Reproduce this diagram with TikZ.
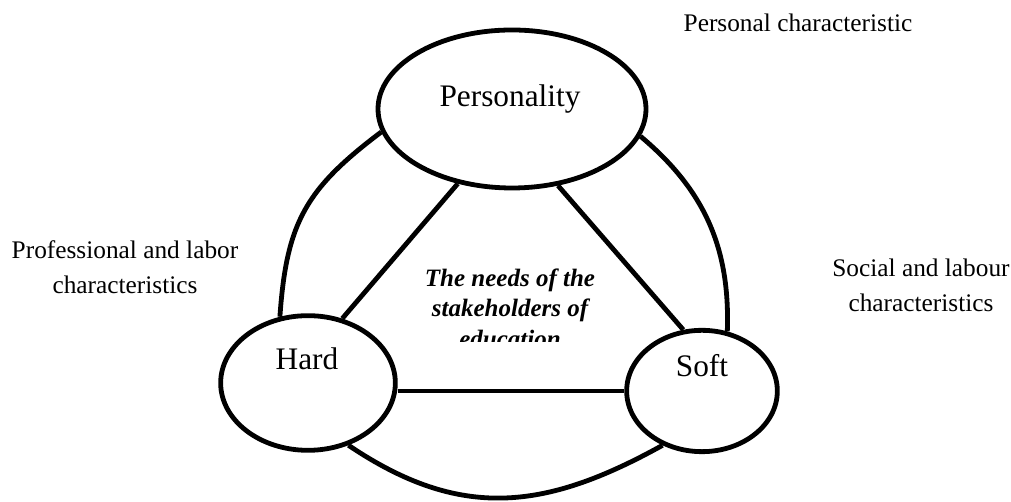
\documentclass[tikz,border=0pt]{standalone}
\usepackage{fontspec}
\setmainfont{Liberation Serif}
\usetikzlibrary{shapes.geometric}

\begin{document}
\begin{tikzpicture}[x=0.75pt,y=0.75pt,
  blob/.style={draw,ellipse,line width=3.6pt,inner sep=0pt},
  big/.style={font=\fontsize{23.5}{28}\selectfont},
  side/.style={align=center,font=\fontsize{19}{26.25}\selectfont}]
  \useasboundingbox (0,0) rectangle (1011,502);
  % the three ellipses
  \node[blob,minimum width=201pt,minimum height=118.5pt] (pers) at (512,393) {};
  \node[blob,minimum width=131pt,minimum height=101pt] (hard) at (308,119) {};
  \node[blob,minimum width=113pt,minimum height=91pt] (soft) at (702,111) {};
  \node[big,anchor=base] (perstxt) at (510,395) {Personality};
  \node[big,anchor=base] (hardtxt) at (307,132) {Hard};
  \node[big,anchor=base] (softtxt) at (702,125) {Soft};
  % outer ring
  \draw[line width=3.6pt] (pers.190) to[out=217,in=86,looseness=1.15] (hard.113);
  \draw[line width=3.6pt] (pers.348) to[out=320,in=88] (soft.67);
  \draw[line width=3.6pt] (hard.303) to[out=-34,in=209,looseness=1.1] (soft.234);
  % inner triangle
  \draw[line width=3.6pt] (pers.234)--(hard.62);
  \draw[line width=3.6pt] (pers.301)--(soft.107);
  \draw[line width=3.6pt] (hard.east |- soft.west)--(soft.west);
  % centre text, cut off at the bottom (base = last line)
  \begin{scope}
    \clip (380,160) rectangle (640,300);
    \node[align=center,anchor=base,font=\fontsize{18.75}{23}\selectfont\bfseries\itshape]
      (needs) at (510,154.6) {The needs of the\\stakeholders of\\education};
  \end{scope}
  % side labels
  \node[side,anchor=base] (perschar) at (798,470) {Personal characteristic};
  \node[side,anchor=base] (profchar) at (125,208) {Professional and labor\\characteristics};
  \node[side,anchor=base] (socchar) at (921,190) {Social and labour\\characteristics};
\end{tikzpicture}
\end{document}
